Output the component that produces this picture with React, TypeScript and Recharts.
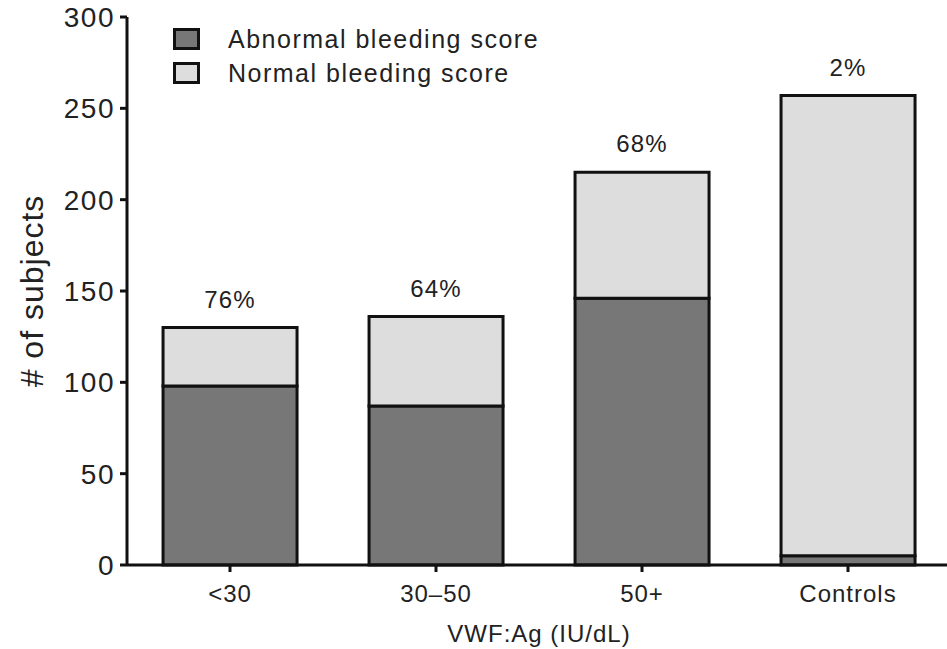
import React from "react";
import { BarChart, Bar, XAxis, YAxis, LabelList } from "recharts";

const categories = ["<30", "30–50", "50+", "Controls"];
const abnormal = [98, 87, 146, 5];
const normal = [32, 49, 69, 252];
const percentLabels = ["76%", "64%", "68%", "2%"];
const yTicks = [0, 50, 100, 150, 200, 250, 300];

const data = categories.map((name, i) => ({
  name,
  abnormal: abnormal[i],
  normal: normal[i],
  pct: percentLabels[i],
}));

const FONT = "'Liberation Sans', Arial, Helvetica, sans-serif";
const TEXT = "#222";

const legendItems = [
  { label: "Abnormal bleeding score", color: "#777777" },
  { label: "Normal bleeding score", color: "#dddddd" },
];

const LegendBox = () => (
  <div
    style={{
      position: "absolute",
      left: 173,
      top: 22,
      fontFamily: FONT,
      fontSize: 25,
      letterSpacing: 1.5,
      color: TEXT,
    }}
  >
    {legendItems.map((it) => (
      <div key={it.label} style={{ display: "flex", alignItems: "center", height: 34 }}>
        <span
          style={{
            display: "inline-block",
            width: 21,
            height: 16,
            background: it.color,
            border: "3px solid #111",
            marginRight: 28,
          }}
        />
        <span>{it.label}</span>
      </div>
    ))}
  </div>
);

export default function App() {
  return (
    <div style={{ position: "absolute", left: 0, top: 0, width: 947, height: 649, background: "#fff", overflow: "hidden" }}>
      <BarChart
        width={951}
        height={649}
        data={data}
        margin={{ top: 17, right: 0, left: 0, bottom: 34 }}
        barCategoryGap="17.5%"
      >
        <XAxis
          dataKey="name"
          height={50}
          axisLine={{ stroke: "#111", strokeWidth: 3 }}
          tickLine={{ stroke: "#111", strokeWidth: 3 }}
          tickSize={7}
          tickMargin={13}
          tick={{ fill: TEXT, fontSize: 24, fontFamily: FONT, letterSpacing: 1 }}
          label={{
            value: "VWF:Ag (IU/dL)",
            position: "insideBottom",
            offset: -27,
            style: { fill: TEXT, fontSize: 24, fontFamily: FONT, letterSpacing: 1 },
          }}
        />
        <YAxis
          width={127}
          domain={[0, 300]}
          ticks={yTicks}
          interval={0}
          axisLine={{ stroke: "#111", strokeWidth: 3 }}
          tickLine={{ stroke: "#111", strokeWidth: 3 }}
          tickSize={7}
          tickMargin={5}
          tick={{ fill: TEXT, fontSize: 28, fontFamily: FONT, letterSpacing: 1.5 }}
          label={{
            value: "# of subjects",
            angle: -90,
            position: "insideLeft",
            offset: 32,
            style: { textAnchor: "middle", fill: TEXT, fontSize: 32, fontFamily: FONT, letterSpacing: 1 },
          }}
        />
        <Bar
          dataKey="abnormal"
          stackId="a"
          fill="#777777"
          stroke="#111"
          strokeWidth={3}
          isAnimationActive={false}
        />
        <Bar
          dataKey="normal"
          stackId="a"
          fill="#dddddd"
          stroke="#111"
          strokeWidth={3}
          isAnimationActive={false}
        >
          <LabelList
            dataKey="pct"
            position="top"
            offset={20}
            style={{ fill: TEXT, fontSize: 24, fontFamily: FONT, letterSpacing: 1.2 }}
          />
        </Bar>
      </BarChart>
      <LegendBox />
    </div>
  );
}
